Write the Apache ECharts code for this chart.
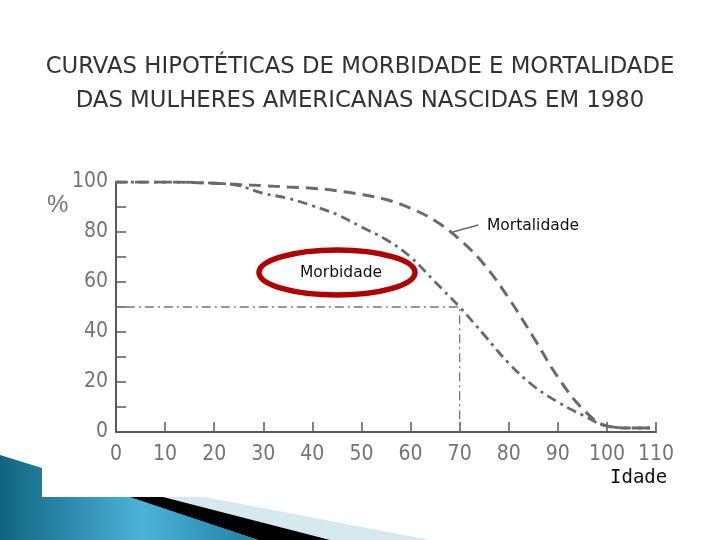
<!DOCTYPE html>
<html>
<head>
<meta charset="utf-8">
<script src="https://cdn.jsdelivr.net/npm/echarts@6/dist/echarts.min.js"></script>
<style>
  html, body { margin: 0; padding: 0; background: #ffffff; }
  #chart { width: 720px; height: 540px; }
</style>
</head>
<body>
<div id="chart"></div>
<script>
// ---- data ----
var ages =        [0,   10,  20,   25,  30,   35,   40,   45,  50,  55,  60,   65,   70,  75,   80,   85,   90,  95,  100, 105, 110];
var mortalidade = [100, 100, 99.5, 99,  98.5, 98,   97.5, 96.5, 95,  93,  89.5, 84.5, 77,  67,   53.5, 38,   22,  9.4, 2.4, 1.6, 1.6];
var morbidade =   [100, 100, 99.5, 98.5,95.5, 93.5, 90.5, 87,  82,  77,  70,   60,   50,  38.8, 27.5, 18.5, 12,  6.8, 2.4, 1.6, 1.6];
var guideX = [2, 70, 70];
var guideY = [50, 50, 0];
var xTicks = [0, 10, 20, 30, 40, 50, 60, 70, 80, 90, 100, 110];
var yTicks = [0, 20, 40, 60, 80, 100];
var pointerX = [68.6, 73.8];
var pointerY = [80, 82.8];
var titleLines = ['CURVAS HIPOTÉTICAS DE MORBIDADE E MORTALIDADE', 'DAS MULHERES AMERICANAS NASCIDAS EM 1980'];

function zip(a, b) { return a.map(function (v, i) { return [v, b[i]]; }); }

var chart = echarts.init(document.getElementById('chart'), null, { renderer: 'canvas' });
var gray = '#747474';
var axisGray = '#5a5a5a';
var tickFont = "'Liberation Sans Narrow', 'DejaVu Sans Condensed', sans-serif";

var option = {
  animation: false,
  backgroundColor: '#ffffff',
  grid: { left: 116, right: 64, top: 182, bottom: 108, containLabel: false },
  xAxis: {
    type: 'value', min: 0, max: 110, interval: 10,
    axisLine: { show: true, lineStyle: { color: axisGray, width: 2 } },
    axisTick: { show: true, inside: true, length: 10, lineStyle: { color: axisGray, width: 1.5 } },
    splitLine: { show: false },
    axisLabel: { color: gray, fontSize: 21, margin: 12, fontFamily: tickFont,
      formatter: function (v) { return xTicks.indexOf(v) >= 0 ? String(v) : ''; } }
  },
  yAxis: {
    type: 'value', min: 0, max: 100, interval: 10,
    axisLine: { show: true, lineStyle: { color: axisGray, width: 2 } },
    axisTick: { show: true, inside: true, length: 10, lineStyle: { color: axisGray, width: 1.5 } },
    splitLine: { show: false },
    axisLabel: { color: gray, fontSize: 21, margin: 8, fontFamily: tickFont,
      formatter: function (v) { return yTicks.indexOf(v) >= 0 ? String(v) : ''; } }
  },
  series: [
    {
      name: 'Mortalidade', type: 'line', data: zip(ages, mortalidade),
      showSymbol: false, smooth: 0.4,
      lineStyle: { color: '#6a6a6a', width: 3, type: [12, 7] },
      markLine: {
        silent: true, symbol: ['none', 'none'],
        lineStyle: { color: '#6a6a6a', width: 1.5, type: 'solid' },
        label: { show: false },
        data: [[{ coord: [pointerX[0], pointerY[0]] }, { coord: [pointerX[1], pointerY[1]] }]]
      }
    },
    {
      name: 'Morbidade', type: 'line', data: zip(ages, morbidade),
      showSymbol: false, smooth: 0.4,
      lineStyle: { color: '#6a6a6a', width: 2.8, type: [10, 5, 3, 5] }
    },
    {
      name: 'guia', type: 'line', data: zip(guideX, guideY),
      showSymbol: false, smooth: false,
      lineStyle: { color: '#777777', width: 1.3, type: [9, 4, 2, 4] }
    }
  ],
  graphic: [
    // slide decoration, bottom-left
    { type: 'polygon', shape: { points: [[128, 497], [205, 497], [430, 540], [258, 540]] }, style: { fill: '#d6e9f0' } },
    { type: 'polygon', shape: { points: [[128, 497], [163, 497], [330, 540], [258, 540]] }, style: { fill: '#000000' } },
    { type: 'polygon', shape: { points: [[0, 455], [42, 468], [42, 497], [130, 497], [258, 540], [0, 540]] },
      style: { fill: new echarts.graphic.LinearGradient(0, 0, 1, 0, [
        { offset: 0, color: '#0f6482' }, { offset: 0.55, color: '#4db3d8' }, { offset: 1, color: '#1f7fa2' }]) } },
    // title
    { type: 'text', left: 'center', top: 56, style: { text: titleLines[0], fill: '#333333', fontSize: 22.8, fontFamily: 'DejaVu Sans' } },
    { type: 'text', left: 'center', top: 90, style: { text: titleLines[1], fill: '#333333', fontSize: 22.8, fontFamily: 'DejaVu Sans' } },
    // axis names
    { type: 'text', x: 47, y: 193, style: { text: '%', fill: gray, fontSize: 24, fontFamily: 'Liberation Sans' } },
    { type: 'text', x: 610, y: 469, style: { text: 'Idade', fill: '#111111', fontSize: 19, fontFamily: 'DejaVu Sans Mono' } },
    // annotations
    { type: 'text', x: 487, y: 218, style: { text: 'Mortalidade', fill: '#111111', fontSize: 15.5, fontFamily: 'DejaVu Sans' } },
    { type: 'text', x: 300, y: 265, style: { text: 'Morbidade', fill: '#111111', fontSize: 15.5, fontFamily: 'DejaVu Sans' } },
    { type: 'ellipse', shape: { cx: 337, cy: 272.5, rx: 78, ry: 22.5 }, style: { fill: 'none', stroke: '#b00000', lineWidth: 5.5 } }
  ]
};
chart.setOption(option);
</script>
</body>
</html>
